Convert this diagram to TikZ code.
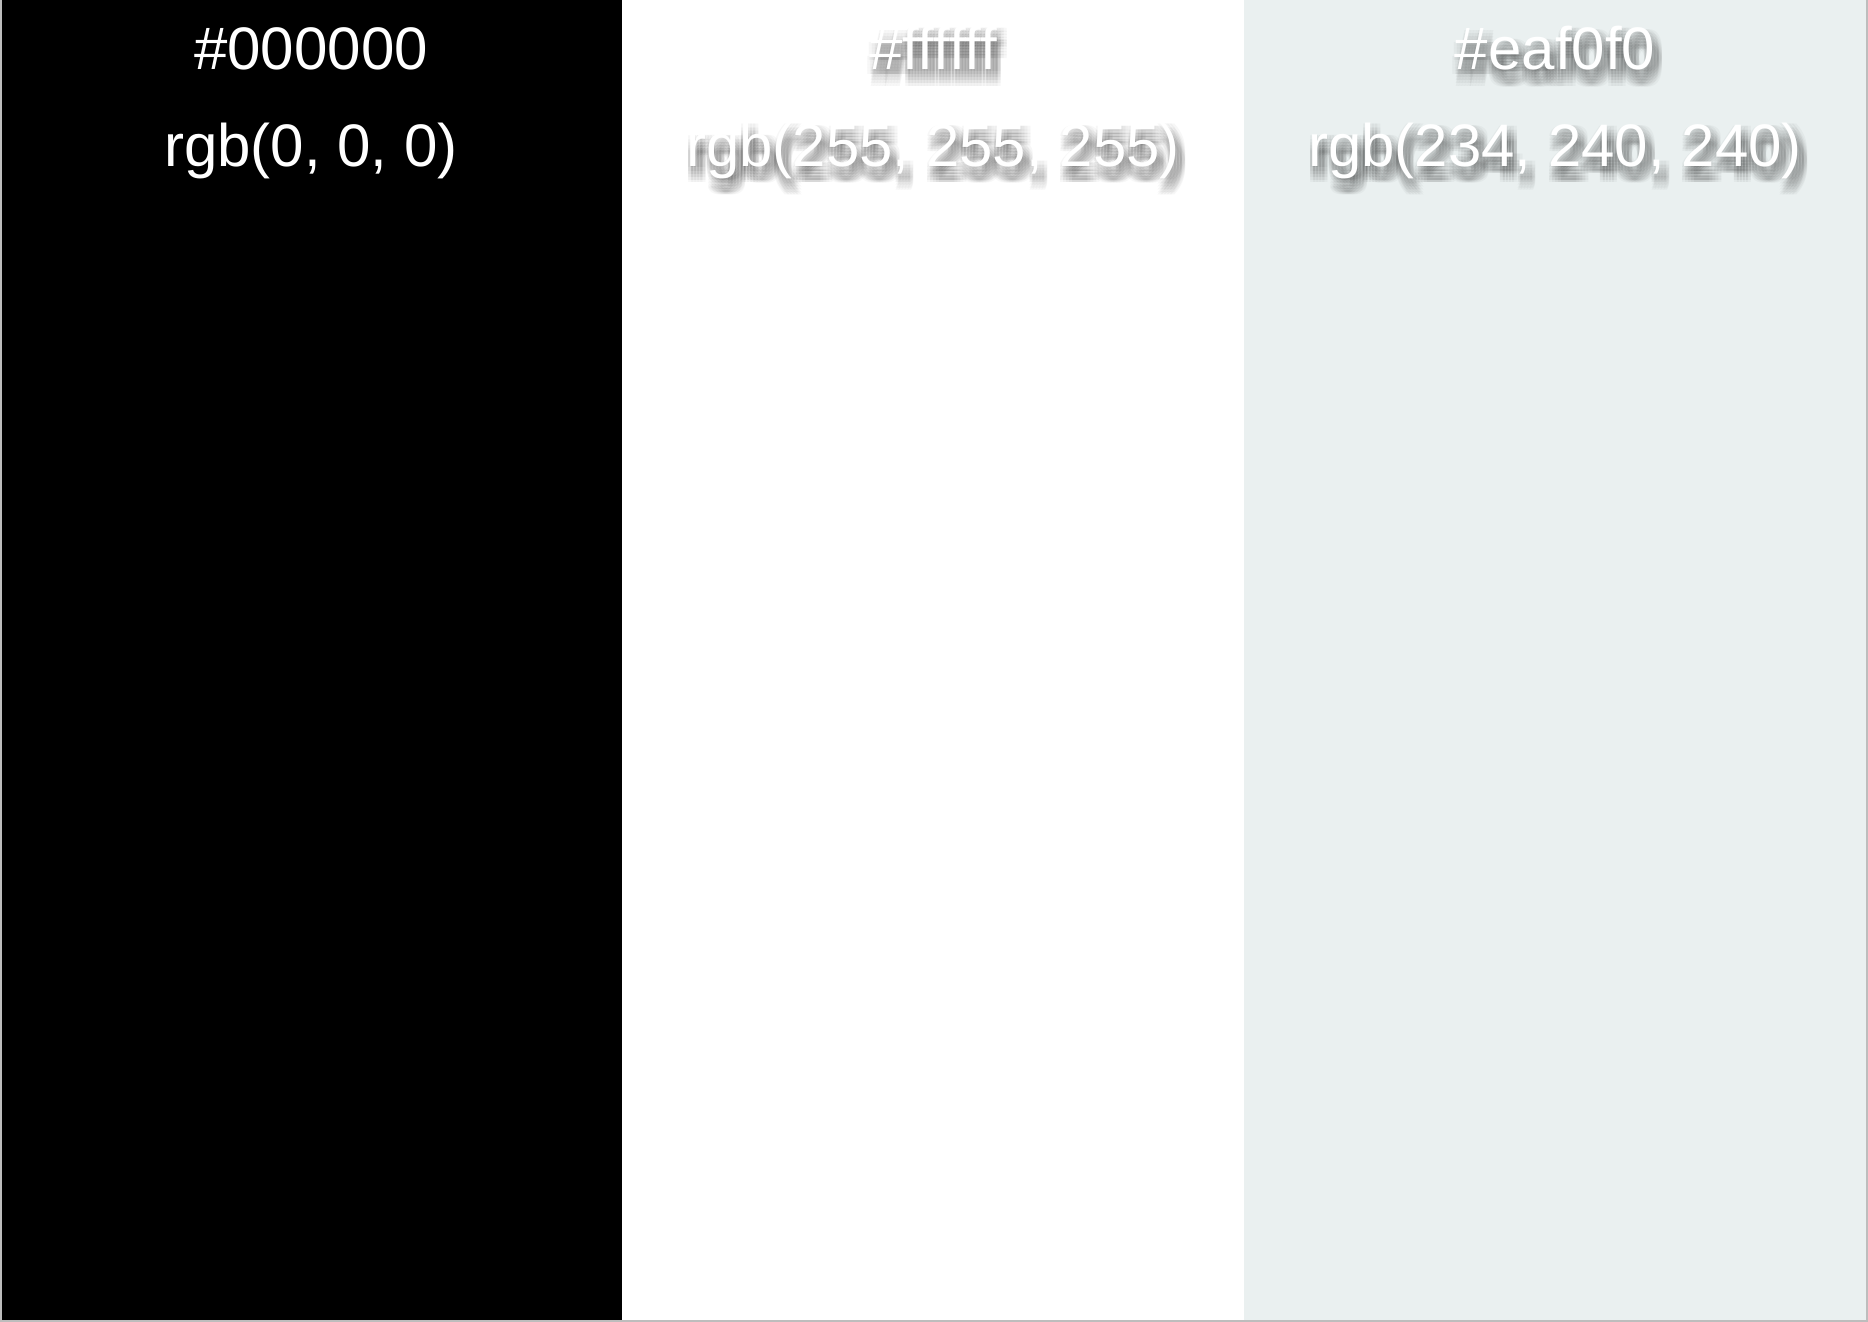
\documentclass[tikz,border=0pt]{standalone}
\usepackage{fontspec}
\setmainfont{Liberation Sans}
\usetikzlibrary{positioning}
\definecolor{mist}{HTML}{EAF0F0}
\definecolor{rim}{HTML}{BDBDBD}
\tikzset{x=0.5pt,y=-0.5pt,
  code/.style={text=white,font=\fontsize{30}{36}\selectfont,inner sep=0pt,anchor=base},
  haze/.style={code,text=black,text opacity=0.032}}

\begin{document}
\begin{tikzpicture}
\useasboundingbox (0,0) rectangle (1868,1322);
% three swatches with their codes
\foreach \c/\swc/\hex/\rgbtxt in {0/black/000000/{0, 0, 0},1/white/ffffff/{255, 255, 255},2/mist/eaf0f0/{234, 240, 240}} {
  \fill[\swc] (622*\c,0) rectangle ++(622,1322);
  % blurred drop shadow
  \foreach \dx in {-2,1,4,7,10}
    \foreach \dy in {2,5,8,11,14,17} {
      \node[haze] (hazehex\c\dx\dy) at (311+622*\c+\dx,70+\dy) {\#\hex};
      \node[haze] (hazergb\c\dx\dy) at (311+622*\c+\dx,166+\dy) {rgb(\rgbtxt)};
    }
  \node[code] (hex\c) at (311+622*\c,70) {\#\hex};
  \node[code] (rgb\c) at (311+622*\c,166) {rgb(\rgbtxt)};
}
\draw[rim, line width=1pt] (0.5,0) -- (0.5,1321) -- (1866.5,1321) -- (1866.5,0);
\end{tikzpicture}
\end{document}
